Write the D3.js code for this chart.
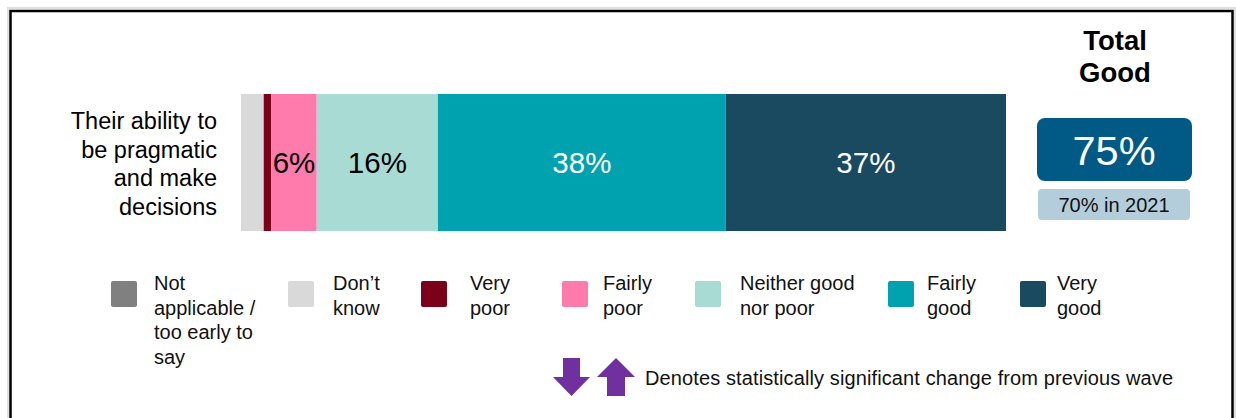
<!DOCTYPE html>
<html>
<head>
<meta charset="utf-8">
<script src="https://cdn.jsdelivr.net/npm/d3@7"></script>
<style>
  body { margin: 0; background: #fff; }
  svg { display: block; font-family: "Liberation Sans", Arial, sans-serif; }
</style>
</head>
<body>
<div id="chart"></div>
<script>
// data
var category = ["Their ability to", "be pragmatic", "and make", "decisions"];
var keys = ["Not applicable / too early to say", "Don\u2019t know", "Very poor", "Fairly poor", "Neither good nor poor", "Fairly good", "Very good"];
var values = [0, 3, 1, 6, 16, 38, 37];
var labels = ["", "", "", "6%", "16%", "38%", "37%"];
var legendLines = [["Not", "applicable /", "too early to", "say"], ["Don\u2019t", "know"], ["Very", "poor"], ["Fairly", "poor"], ["Neither good", "nor poor"], ["Fairly", "good"], ["Very", "good"]];
var colors = ["#808080", "#d9d9d9", "#7b0019", "#ff7bac", "#a8dbd4", "#00a2b0", "#1a4a5f"];
var labelColors = ["#000", "#000", "#fff", "#000", "#000", "#fff", "#fff"];
var totalGood = "75%";
var lastWave = "70% in 2021";
var legendX = [111, 288, 421, 562, 695, 888, 1020];
var legendTextX = [154, 333, 470, 603, 740, 927, 1057];

var width = 1236, height = 418;

var svg = d3.select("#chart").append("svg")
    .attr("width", width)
    .attr("height", height);

//Frame
svg.append("rect")
    .attr("x", 8).attr("y", 8)
    .attr("width", 1227).attr("height", 420)
    .attr("fill", "none").attr("stroke", "#e0e0e0").attr("stroke-width", 2);
svg.append("rect")
    .attr("x", 10.5).attr("y", 11)
    .attr("width", 1222).attr("height", 420)
    .attr("fill", "none").attr("stroke", "#000").attr("stroke-width", 2.5);

//Stacked bar
var cum = 0;
var segs = values.map(function(v, i) {
    var s = {key: keys[i], start: cum, end: cum + v, i: i};
    cum += v;
    return s;
});

var x = d3.scaleLinear().domain([0, cum]).range([241, 1006]);
var y = d3.scaleBand().domain(["row"]).range([94, 231]);

svg.selectAll("rect.seg")
    .data(segs.filter(d => d.end > d.start))
    .enter()
    .append("rect")
    .attr("class", "seg")
    .attr("x", d => x(d.start))
    .attr("y", y("row"))
    .attr("width", d => x(d.end) - x(d.start))
    .attr("height", y.bandwidth())
    .attr("fill", d => colors[d.i]);

svg.selectAll("text.seg")
    .data(segs.filter(d => labels[d.i] != ""))
    .enter()
    .append("text")
    .attr("x", d => (x(d.start) + x(d.end)) / 2)
    .attr("y", y("row") + y.bandwidth() / 2)
    .attr("dy", "0.35em")
    .attr("text-anchor", "middle")
    .attr("font-size", 29.5)
    .attr("fill", d => labelColors[d.i])
    .text(d => labels[d.i]);

//Category label
svg.append("text")
    .attr("text-anchor", "end")
    .attr("font-size", 23.5)
    .selectAll("tspan")
    .data(category)
    .enter()
    .append("tspan")
    .attr("x", 217)
    .attr("y", (d, i) => 129 + i * 28.5)
    .text(d => d);

//Total good
svg.append("text")
    .attr("text-anchor", "middle")
    .attr("font-size", 27.5)
    .attr("font-weight", "bold")
    .selectAll("tspan")
    .data(["Total", "Good"])
    .enter()
    .append("tspan")
    .attr("x", 1115)
    .attr("y", (d, i) => 50 + i * 32)
    .text(d => d);

svg.append("rect")
    .attr("x", 1037).attr("y", 118)
    .attr("width", 155).attr("height", 63)
    .attr("rx", 8)
    .attr("fill", "#005a85");
svg.append("text")
    .attr("x", 1114).attr("y", 150)
    .attr("dy", "0.35em")
    .attr("text-anchor", "middle")
    .attr("font-size", 41.5)
    .attr("fill", "#fff")
    .text(totalGood);

svg.append("rect")
    .attr("x", 1038).attr("y", 189)
    .attr("width", 152).attr("height", 31)
    .attr("rx", 4)
    .attr("fill", "#b4cddb");
svg.append("text")
    .attr("x", 1114).attr("y", 205)
    .attr("dy", "0.35em")
    .attr("text-anchor", "middle")
    .attr("font-size", 20)
    .attr("fill", "#111")
    .text(lastWave);

//Legend
var legend = svg.selectAll("g.legend")
    .data(keys)
    .enter()
    .append("g")
    .attr("class", "legend");

legend.append("rect")
    .attr("x", (d, i) => legendX[i]).attr("y", 281)
    .attr("width", 26).attr("height", 26)
    .attr("rx", 2)
    .attr("fill", (d, i) => colors[i]);

legend.append("text")
    .attr("font-size", 20)
    .attr("fill", "#111")
    .each(function(d, i) {
        d3.select(this).selectAll("tspan")
            .data(legendLines[i])
            .enter()
            .append("tspan")
            .attr("x", legendTextX[i])
            .attr("y", (t, j) => 290 + j * 24.5)
            .text(t => t);
    });

//Significance note
var arrow = d3.line();
var arrowColor = "#7030a0";
svg.append("path")
    .attr("d", arrow([[563, 358], [580, 358], [580, 377], [590, 377], [571.5, 396], [553, 377], [563, 377]]) + "Z")
    .attr("fill", arrowColor);
svg.append("path")
    .attr("d", arrow([[616, 358], [635, 377], [625, 377], [625, 396], [607, 396], [607, 377], [597, 377]]) + "Z")
    .attr("fill", arrowColor);
svg.append("text")
    .attr("x", 645).attr("y", 378)
    .attr("dy", "0.35em")
    .attr("font-size", 20)
    .attr("textLength", 528)
    .attr("fill", "#111")
    .text("Denotes statistically significant change from previous wave");
</script>
</body>
</html>
